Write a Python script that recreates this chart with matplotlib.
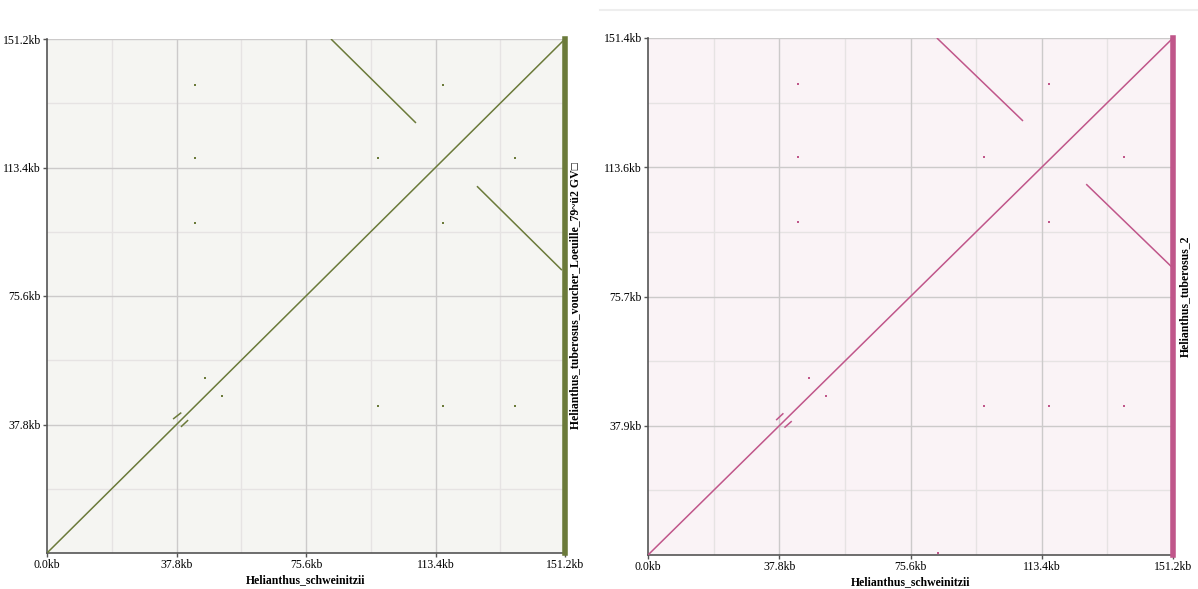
import matplotlib

matplotlib.use("Agg")
import matplotlib.pyplot as plt
import numpy as np

# --- data (kb) ---
query_name = "Helianthus_schweinitzii"
left_name = "Helianthus_tuberosus_voucher_Loeuille_79~ü2 GV\u25a1"
right_name = "Helianthus_tuberosus_2"

x_len = 151.2
left_y_len = 151.2
right_y_len = 151.4

x_ticks = [0.0, 37.8, 75.6, 113.4, 151.2]
left_y_ticks = [0.0, 37.8, 75.6, 113.4, 151.2]
right_y_ticks = [0.0, 37.9, 75.7, 113.6, 151.4]

# alignment segments: x0, y0, x1, y1
left_seg_x0 = [0.0, 82.9, 125.5, 36.8, 39.1]
left_seg_y0 = [0.0, 151.2, 107.9, 39.4, 37.1]
left_seg_x1 = [151.2, 107.7, 150.3, 39.2, 41.2]
left_seg_y1 = [151.2, 126.5, 83.2, 41.3, 39.1]

right_seg_x0 = [0.0, 83.2, 126.2, 36.9, 39.3]
right_seg_y0 = [0.0, 151.4, 108.6, 39.5, 37.3]
right_seg_x1 = [151.2, 108.0, 151.2, 39.0, 41.4]
right_seg_y1 = [151.4, 127.1, 84.0, 41.5, 39.2]

# short hits shown as dots
left_dot_x = [43.2, 115.6, 43.2, 96.6, 136.6, 43.2, 115.6, 46.1, 51.1, 96.6, 115.6, 136.6]
left_dot_y = [137.6, 137.6, 116.2, 116.2, 116.2, 97.1, 97.1, 51.5, 46.2, 43.2, 43.2, 43.2]

right_dot_x = [43.2, 115.6, 43.2, 96.7, 137.1, 43.2, 115.6, 46.4, 51.3, 96.7, 115.6, 137.1, 83.5]
right_dot_y = [137.9, 137.9, 116.6, 116.6, 116.6, 97.6, 97.6, 51.9, 46.6, 43.7, 43.7, 43.7, 0.6]

W, H = 1198, 589
fig = plt.figure(figsize=(W / 100, H / 100), dpi=100)
fig.patch.set_facecolor("white")

SERIF = ["Liberation Serif", "DejaVu Serif"]


def draw_panel(rect, ylen, yticks, sx0, sy0, sx1, sy1, dx, dy, color, bg, ylab, ylabpad):
    ax = fig.add_axes(rect)
    ax.set_facecolor(bg)
    ax.set_xlim(0, x_len)
    ax.set_ylim(0, ylen)

    # minor grid halfway between major ticks
    for i in range(len(x_ticks) - 1):
        m = (x_ticks[i] + x_ticks[i + 1]) / 2
        ax.axvline(m, color="#e6e3e3", lw=1.0, zorder=0)
    for i in range(len(yticks) - 1):
        m = (yticks[i] + yticks[i + 1]) / 2
        ax.axhline(m, color="#e6e3e3", lw=1.0, zorder=0)
    for t in x_ticks[1:-1]:
        ax.axvline(t, color="#cccaca", lw=1.0, zorder=0)
    for t in yticks[1:]:
        ax.axhline(t, color="#cccaca", lw=1.0, zorder=0)

    for a, b, c, d in zip(sx0, sy0, sx1, sy1):
        ax.plot([a, c], [b, d], color=color, lw=1.1, solid_capstyle="butt", zorder=3)
    ax.plot(dx, dy, "s", color=color, ms=1.6, mew=0, zorder=3)

    # sequence bar on the right edge
    ax.axvline(x_len, color=color, lw=4.0, clip_on=False, zorder=4)

    ax.set_xticks(x_ticks)
    ax.set_xticklabels([f"{t:.1f}kb" for t in x_ticks], family=SERIF, fontsize=8.5)
    ax.set_yticks(yticks[1:])
    ax.set_yticklabels([f"{t:.1f}kb" for t in yticks[1:]], family=SERIF, fontsize=8.5)
    ax.tick_params(length=3, width=1, color="#555555", pad=1.5)

    for s in ["top", "right"]:
        ax.spines[s].set_visible(False)
    for s in ["left", "bottom"]:
        ax.spines[s].set_color("#555555")
        ax.spines[s].set_linewidth(1.2)

    ax.set_xlabel(query_name, family=SERIF, fontsize=8.5, fontweight="bold", labelpad=2)
    ax.yaxis.set_label_position("right")
    ax.set_ylabel(ylab, family=SERIF, fontsize=8.5, fontweight="bold", labelpad=ylabpad)
    return ax


draw_panel([47 / W, 36 / H, 518 / W, 514 / H], left_y_len, left_y_ticks,
           left_seg_x0, left_seg_y0, left_seg_x1, left_seg_y1,
           left_dot_x, left_dot_y, "#6b7a3a", "#f5f5f2", left_name, 3)

draw_panel([648 / W, 34 / H, 525 / W, 517 / H], right_y_len, right_y_ticks,
           right_seg_x0, right_seg_y0, right_seg_x1, right_seg_y1,
           right_dot_x, right_dot_y, "#c0568a", "#faf3f6", right_name, 4)

# faint separator line above the right panel
fig.add_artist(plt.Line2D([600 / W, 1], [1 - 10 / H, 1 - 10 / H], color="#eeeeee", lw=1.5))

fig.savefig("out.png", dpi=100)
